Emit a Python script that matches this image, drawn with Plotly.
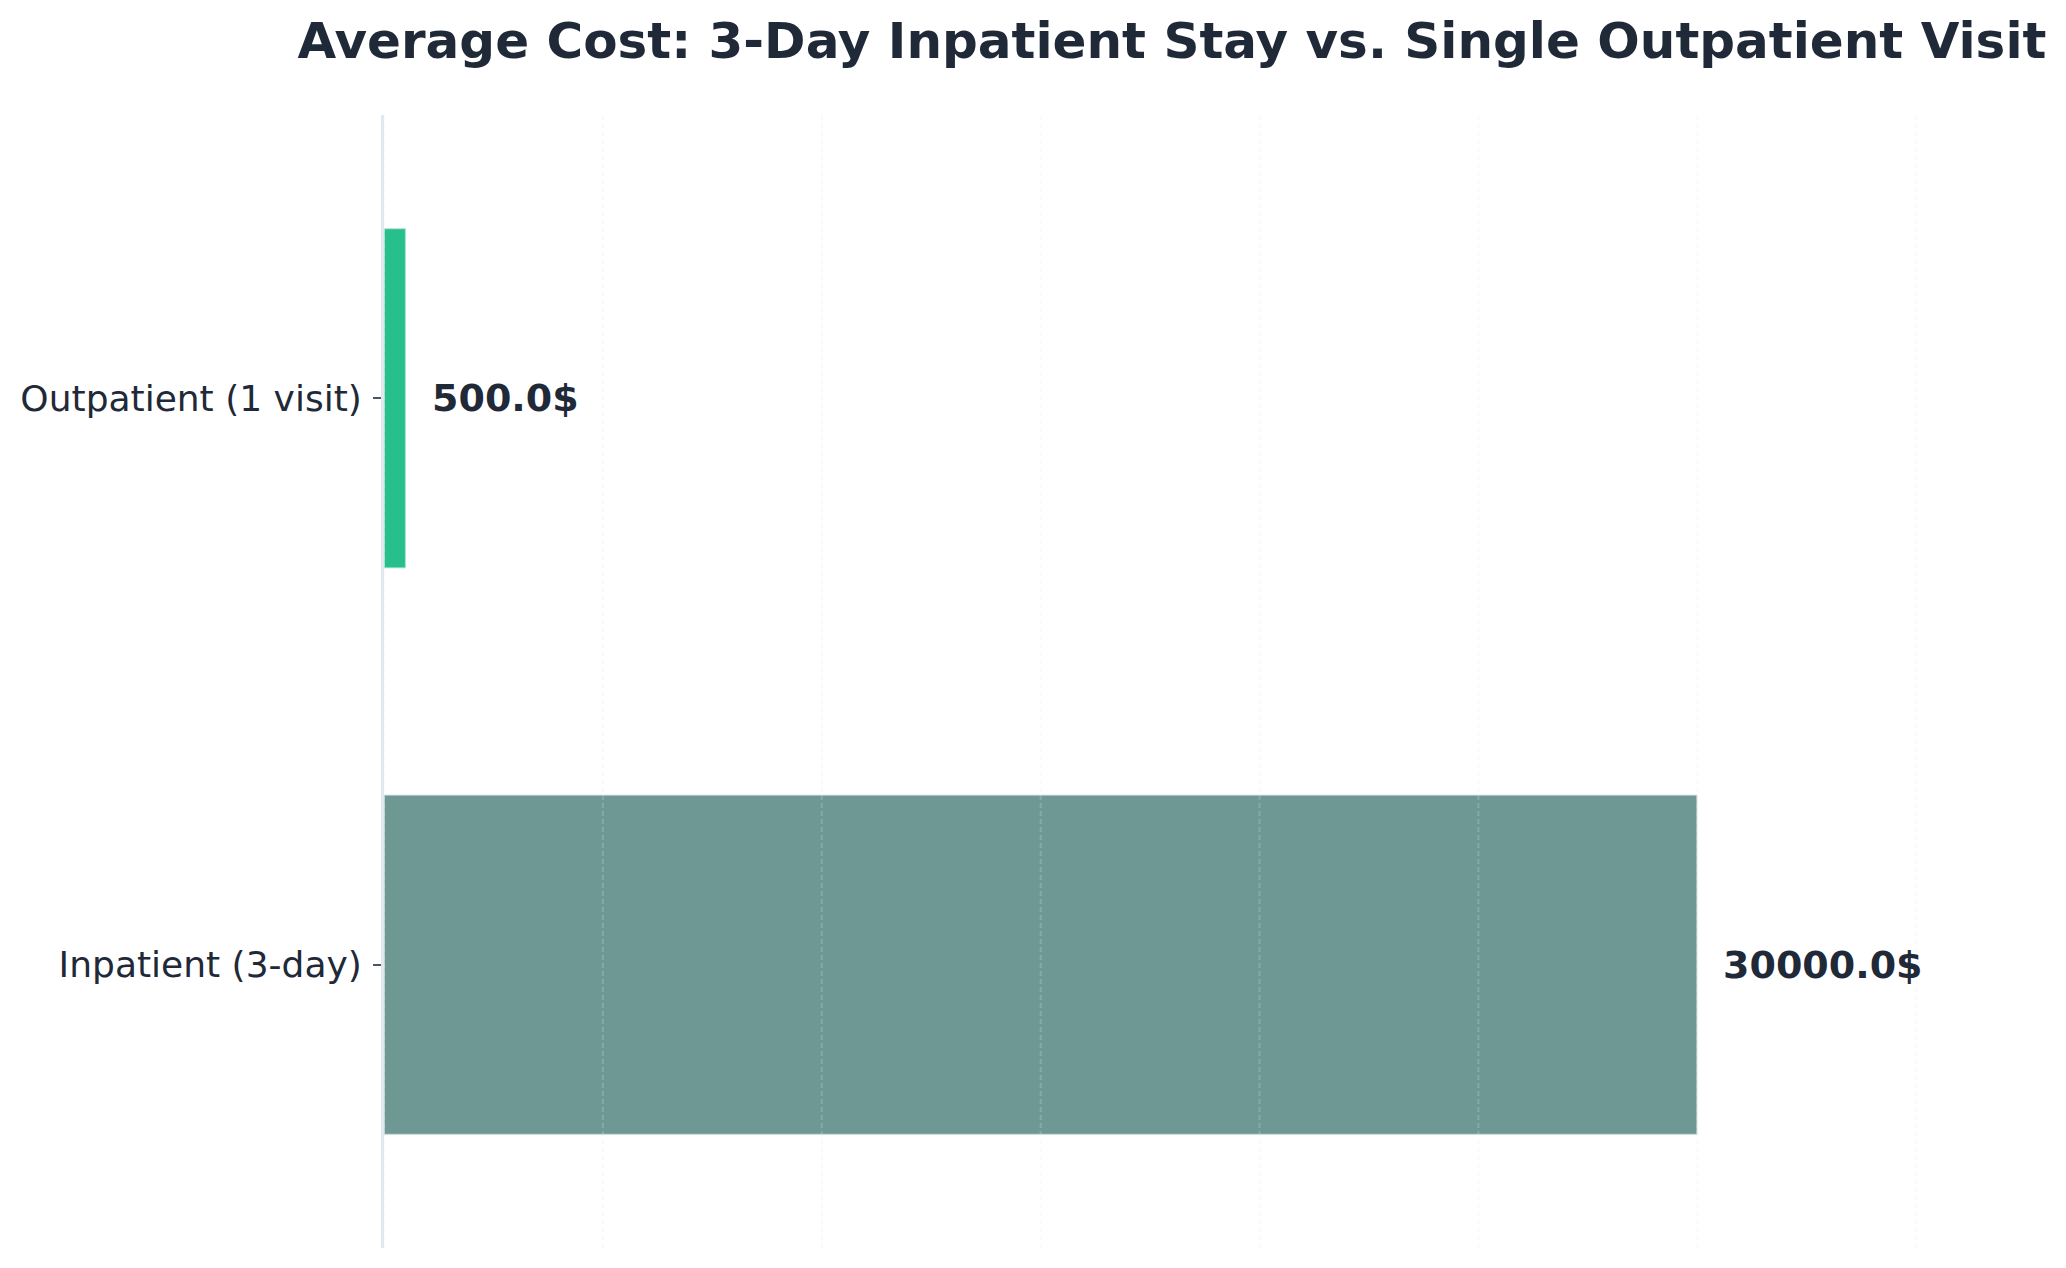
import plotly.graph_objects as go

# data
categories = ["Inpatient (3-day)", "Outpatient (1 visit)"]
costs = [30000.0, 500.0]
bar_colors = ["#6E9893", "#27BF8C"]
labels = [f"{c}$" for c in costs]
x_max = 36000
grid_step = 5000

TEXT = "#1F2937"
FONT = "DejaVu Sans"

fig = go.Figure()
fig.add_trace(go.Bar(
    y=categories,
    x=costs,
    orientation="h",
    width=0.6,
    marker=dict(color=bar_colors, line=dict(color="rgba(255,255,255,0.55)", width=2)),
    hoverinfo="x+y",
))

# value labels just past the end of each bar
for cat, val, lab in zip(categories, costs, labels):
    fig.add_annotation(
        x=val, y=cat, text=f"<b>{lab}</b>",
        xanchor="left", yanchor="middle", xshift=24, showarrow=False,
        font=dict(family=FONT, size=38, color=TEXT),
    )

# dashed grid drawn over the bars (plotly's own grid sits below traces)
for v in range(0, x_max, grid_step):
    fig.add_vline(x=v, layer="above",
                  line=dict(color="rgba(230,234,238,0.22)", width=2, dash="5px,3px"))

fig.update_layout(
    width=2058, height=1260,
    margin=dict(l=376, r=106, t=107, b=20),
    paper_bgcolor="white", plot_bgcolor="white",
    showlegend=False,
    font=dict(family=FONT, color=TEXT),
    title=dict(
        text="<b>Average Cost: 3-Day Inpatient Stay vs. Single Outpatient Visit</b>",
        x=0.5, xref="paper", xanchor="center",
        y=0.9746, yref="container", yanchor="middle",
        font=dict(family=FONT, size=50, color=TEXT),
    ),
)

fig.update_xaxes(
    range=[0, x_max],
    showticklabels=False, ticks="",
    showgrid=False, zeroline=False, showline=False,
)
fig.update_yaxes(
    range=[-0.5, 1.5],
    categoryorder="array", categoryarray=categories,
    showgrid=False, zeroline=False,
    showline=True, linecolor="#E2E8F0", linewidth=3, layer="above traces",
    ticks="outside", ticklen=8, tickwidth=1.5, tickcolor="#4B5563",
    ticklabelstandoff=4,
    tickfont=dict(family=FONT, size=36, color=TEXT),
)

fig.write_html("out.html")
